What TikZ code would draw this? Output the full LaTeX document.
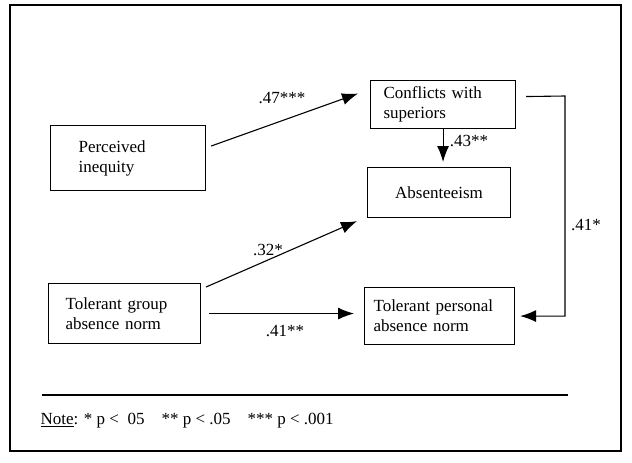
\documentclass[tikz,border=0pt]{standalone}
\usepackage{fontspec}
\setmainfont{Liberation Serif}
\usetikzlibrary{arrows.meta}

\tikzset{
  box/.style={draw, line width=1.1pt, align=left, anchor=north west, inner ysep=0pt, font=\fontsize{17}{20}\selectfont},
  arr/.style={line width=1.1pt, -{Latex[length=16pt,width=12pt]}},
  lab/.style={font=\fontsize{17}{20}\selectfont}
}

\begin{document}
\begin{tikzpicture}[x=1pt,y=-1pt]
        \useasboundingbox (0,0) rectangle (632,463);
        \draw[line width=1.1pt] (10,5) rectangle (621,451);
        \node[box, minimum width=155pt, minimum height=65pt, text width=99pt, inner xsep=28pt] (pi) at (50,125) {Perceived\\inequity};
        \node[box, minimum width=145pt, minimum height=48pt, text width=119pt, inner xsep=13pt] (cs) at (370,80) {Conflicts with\\superiors};
        \node[box, minimum width=143pt, minimum height=50pt, align=center, text width=123pt, inner xsep=10pt] (ab) at (367,167) {Absenteeism};
        \node[box, minimum width=152pt, minimum height=60pt, text width=118pt, inner xsep=17pt] (tg) at (48,283) {Tolerant group\\absence norm};
        \node[box, minimum width=150pt, minimum height=57pt, text width=132pt, inner xsep=9pt] (tp) at (364,287) {Tolerant personal\\absence norm};
        \coordinate (rt) at (565,96);
        \draw[arr] ([shift={(5,-12)}]pi.east) -- ([shift={(-12,-11)}]cs.west);
        \draw[arr, shorten >=5pt] (cs.south) -- (cs.south |- ab.north);
        \draw[arr] ([shift={(5,4)}]tg.north east) -- ([shift={(-10,3)}]ab.south west);
        \draw[arr, shorten <=8pt, shorten >=10pt] (tg.east) -- (tg.east -| tp.west);
        \draw[arr] ([shift={(10,-8)}]cs.east) -- (rt) |- ([xshift=5pt]tp.east);
        \node[lab] (l47) at (282,98) {.47***};
        \node[lab] (l43) at (469,141) {.43**};
        \node[lab] (l32) at (268,250) {.32*};
        \node[lab] (l41b) at (285,331) {.41**};
        \node[lab] (l41a) at (586,225) {.41*};
        \draw[line width=1.1pt] (42,395) -- (568,395);
        \node[lab, anchor=west] (note) at (37,421) {\underline{Note}: * p <\ \ 05\quad ** p < .05\quad *** p < .001};
\end{tikzpicture}
\end{document}
